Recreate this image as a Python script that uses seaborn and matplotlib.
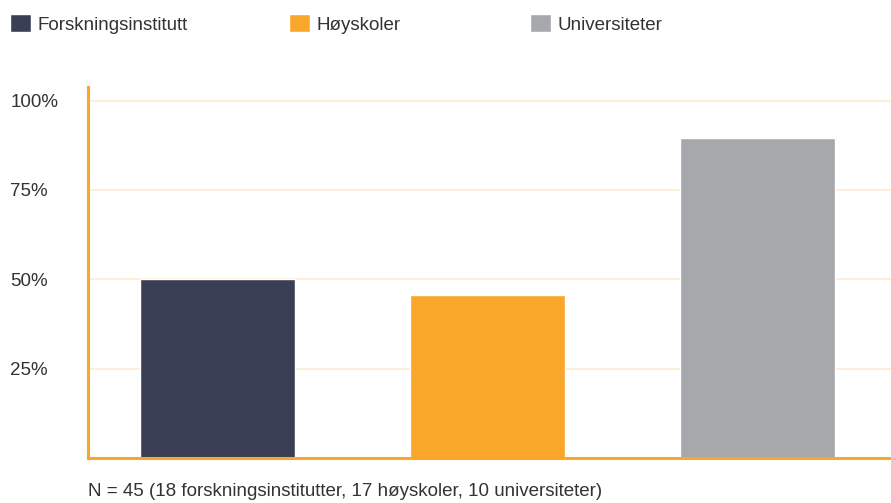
import matplotlib.pyplot as plt
import seaborn as sns
from matplotlib.patches import Patch

# data
categories = ["Forskningsinstitutt", "Høyskoler", "Universiteter"]
shares = [50, 45.5, 89.5]
colors = ["#3b3f55", "#f9a72b", "#a7a8ac"]
yticks = [25, 50, 75, 100]
ytick_labels = ["25%", "50%", "75%", "100%"]
note = "N = 45 (18 forskningsinstitutter, 17 høyskoler, 10 universiteter)"

sns.set_style("white")
plt.rcParams["font.family"] = ["Liberation Sans", "DejaVu Sans"]
text_color = "#333333"
orange = "#f9a72b"

fig = plt.figure(figsize=(8.91, 5.03), dpi=100)
ax = fig.add_axes([88 / 891, 45 / 503, 1 - 88 / 891, 371 / 503])

sns.barplot(x=categories, y=shares, hue=categories, palette=colors,
            width=0.574, legend=False, saturation=1, ax=ax)

ax.set_xlim(-0.48, 2.494)
ax.set_ylim(0, 103.8)
ax.set_yticks(yticks)
ax.set_yticklabels(ytick_labels)
ax.set_xticks([])
ax.set_xlabel("")
ax.set_ylabel("")
ax.yaxis.grid(True, color="#fdedd5", lw=1.3)
ax.set_axisbelow(True)
ax.tick_params(axis="y", length=0, pad=56, labelsize=13.5, labelcolor=text_color)
for lab in ax.get_yticklabels():
    lab.set_ha("left")
    lab.set_va("center_baseline")

for side in ["top", "right"]:
    ax.spines[side].set_visible(False)
for side in ["left", "bottom"]:
    ax.spines[side].set_color(orange)
    ax.spines[side].set_linewidth(2.2)

# legend, one entry per column like the original
legend_x = [10 / 891, 289 / 891, 530 / 891]
for name, col, lx in zip(categories, colors, legend_x):
    fig.legend(handles=[Patch(facecolor=col, label=name)], loc="center left",
               bbox_to_anchor=(lx, 1 - 24 / 503), frameon=False,
               borderpad=0, borderaxespad=0,
               fontsize=13.5, handlelength=1.1, handleheight=1.1,
               handletextpad=0.36, labelcolor=text_color)

fig.text(88 / 891, 1 - 492 / 503, note, fontsize=13.5, color=text_color,
         va="center", ha="left")

fig.savefig("out.png", dpi=100)
